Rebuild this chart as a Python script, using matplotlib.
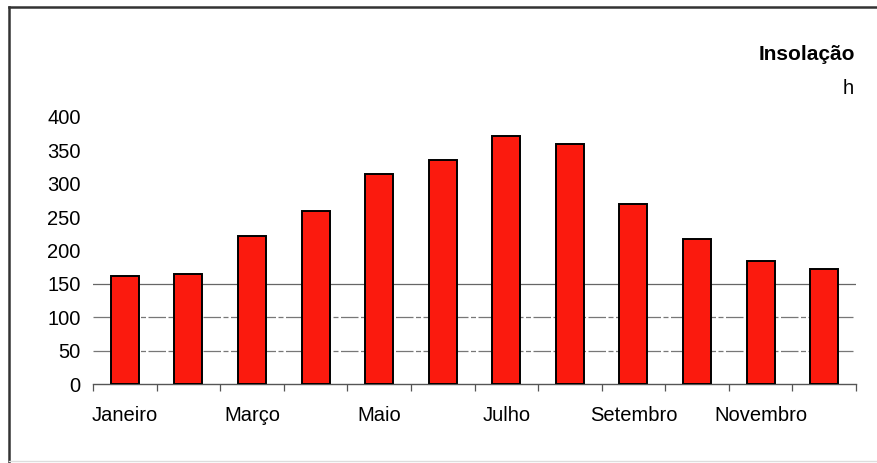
import matplotlib.pyplot as plt
import numpy as np
from matplotlib.lines import Line2D

plt.rcParams['font.family'] = ['Liberation Sans', 'DejaVu Sans']

meses = ['Janeiro', 'Fevereiro', 'Março', 'Abril', 'Maio', 'Junho',
         'Julho', 'Agosto', 'Setembro', 'Outubro', 'Novembro', 'Dezembro']
insolacao = [162, 165, 221, 259, 315, 336, 371, 359, 270, 217, 184, 172]
grelha = [50, 100, 150]

fig = plt.figure(figsize=(8.77, 4.63), dpi=100)
ax = fig.add_axes([93 / 877, 1 - 384 / 463, 763 / 877, 267 / 463])

x = np.arange(len(meses))
ax.bar(x, insolacao, width=0.44, color='#fb1a0e', edgecolor='black',
       linewidth=1.4, zorder=3)

# linhas de referência
ax.axhline(grelha[2], color='#666666', lw=0.9, zorder=1)
for g in grelha[:2]:
    ax.axhline(g, color='#777777', lw=0.9, ls=(0, (14, 2, 4, 2)), zorder=1)

ax.set_xlim(-0.5, len(meses) - 0.5)
ax.set_ylim(0, 400)
ax.set_yticks(range(0, 401, 50))
ax.tick_params(axis='y', length=0, pad=9, labelsize=14.5)

# marcas nas fronteiras dos meses, rótulos alternados no centro
ax.set_xticks(np.arange(-0.5, len(meses)), labels=[''] * (len(meses) + 1))
ax.tick_params(axis='x', which='major', length=5, width=0.9,
               color='#555555', direction='out')
ax.set_xticks(x[::2], labels=meses[::2], minor=True)
ax.tick_params(axis='x', which='minor', length=0, pad=16, labelsize=14.5)

for s in ['top', 'right', 'left']:
    ax.spines[s].set_visible(False)
ax.spines['bottom'].set_color('#555555')
ax.spines['bottom'].set_linewidth(1.0)

fig.text(855 / 877, 1 - 55 / 463, 'Insolação', ha='right', va='center',
         fontsize=15, fontweight='bold')
fig.text(848 / 877, 1 - 88 / 463, 'h', ha='center', va='center', fontsize=14.5)

# moldura
fig.add_artist(Line2D([9 / 877, 9 / 877], [0, 1 - 7 / 463],
                      transform=fig.transFigure, color='#333333', lw=1.8))
fig.add_artist(Line2D([9 / 877, 1], [1 - 7 / 463, 1 - 7 / 463],
                      transform=fig.transFigure, color='#333333', lw=1.8))
fig.add_artist(Line2D([9 / 877, 1], [1 - 461 / 463, 1 - 461 / 463],
                      transform=fig.transFigure, color='#dddddd', lw=1.0))

fig.savefig('out.png', dpi=100)
